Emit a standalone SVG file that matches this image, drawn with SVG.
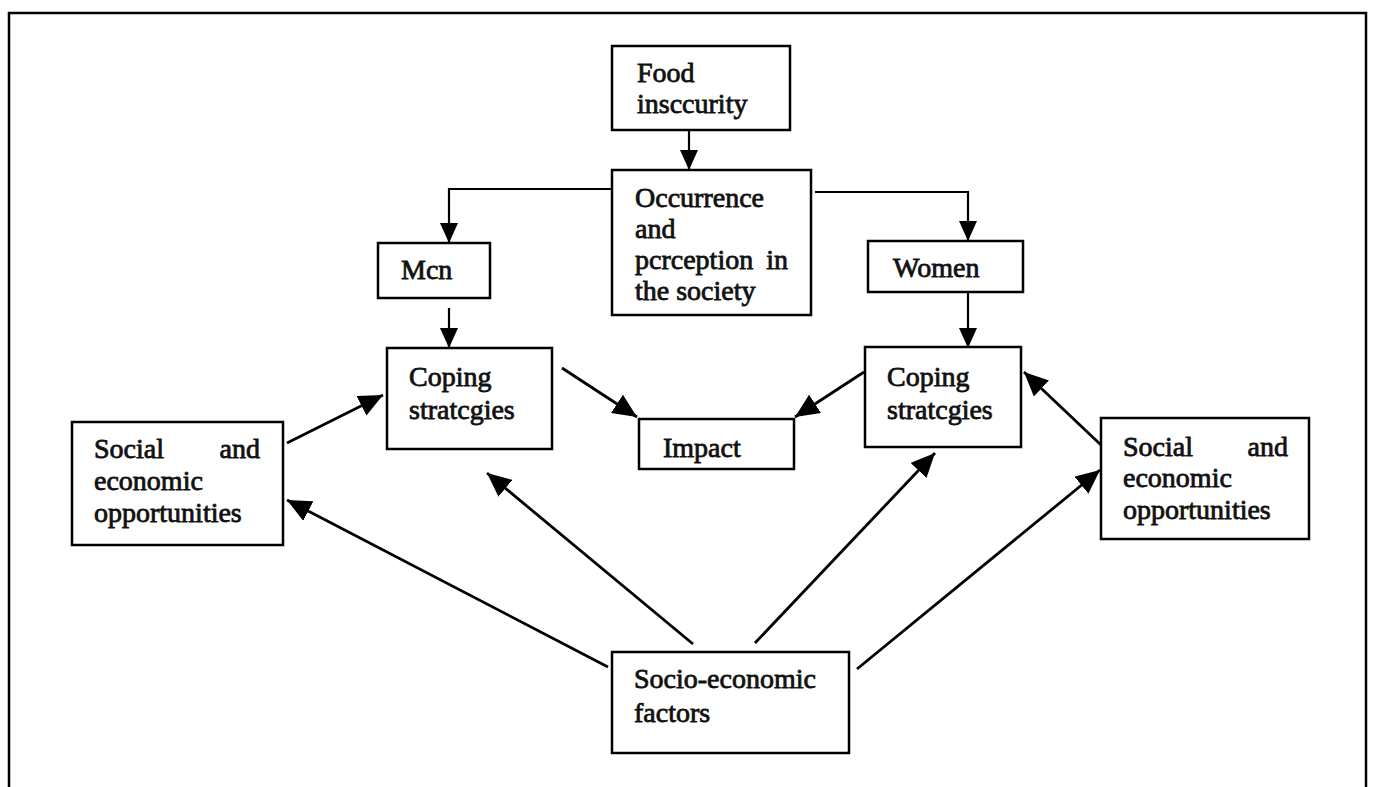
<svg xmlns="http://www.w3.org/2000/svg" width="1377" height="787" viewBox="0 0 1377 787">
<style>
.box{fill:#fff;stroke:#000;stroke-width:2.5}
.t{font-family:"Liberation Serif","Times New Roman",serif;font-size:28px;fill:#111;stroke:#111;stroke-width:0.8}
.c{fill:none;stroke:#000;stroke-width:2.8}
.v{fill:none;stroke:#000;stroke-width:2.2}
</style>
<defs>
<marker id="big" viewBox="0 0 24 22" refX="24" refY="11" markerWidth="24" markerHeight="22" markerUnits="userSpaceOnUse" orient="auto">
<path d="M0,0 L24,11 L0,22 z" fill="#000"/>
</marker>
<marker id="sm" viewBox="0 0 20 18" refX="20" refY="9" markerWidth="20" markerHeight="18" markerUnits="userSpaceOnUse" orient="auto">
<path d="M0,0 L20,9 L0,18 z" fill="#000"/>
</marker>
</defs>
<rect x="9" y="13" width="1357" height="800" fill="#fff" stroke="#000" stroke-width="2.5"/>
<g id="connectors">
<path class="v" d="M689,130 V170" marker-end="url(#sm)"/>
<path class="v" d="M612,189 H449 V243" marker-end="url(#sm)"/>
<path class="v" d="M815,192 H968 V241" marker-end="url(#sm)"/>
<path class="v" d="M449,308 V348" marker-end="url(#sm)"/>
<path class="v" d="M968,293 V348" marker-end="url(#sm)"/>
<path class="c" d="M562,368 L637,417" marker-end="url(#big)"/>
<path class="c" d="M864,372 L795,417" marker-end="url(#big)"/>
<path class="c" d="M287,443 L383,395" marker-end="url(#big)"/>
<path class="c" d="M1101,445 L1024,372" marker-end="url(#big)"/>
<path class="c" d="M608,667 L287,500" marker-end="url(#big)"/>
<path class="c" d="M693,644 L487,473" marker-end="url(#big)"/>
<path class="c" d="M755,643 L935,453" marker-end="url(#big)"/>
<path class="c" d="M857,669 L1100,470" marker-end="url(#big)"/>
</g>
<g id="food">
<rect class="box" x="612" y="46" width="178" height="84"/>
<text class="t" x="637" y="82">Food</text>
<text class="t" x="637" y="113">insccurity</text>
</g>
<g id="occurrence">
<rect class="box" x="612" y="170" width="199" height="145"/>
<text class="t" x="635" y="207">Occurrence</text>
<text class="t" x="635" y="238">and</text>
<text class="t" x="635" y="269">pcrception</text>
<text class="t" x="788" y="269" text-anchor="end">in</text>
<text class="t" x="635" y="300">the society</text>
</g>
<g id="men">
<rect class="box" x="378" y="243" width="112" height="55"/>
<text class="t" x="401" y="279">Mcn</text>
</g>
<g id="women">
<rect class="box" x="868" y="241" width="155" height="51"/>
<text class="t" x="893" y="277">Women</text>
</g>
<g id="coping-left">
<rect class="box" x="387" y="348" width="165" height="101"/>
<text class="t" x="409" y="386">Coping</text>
<text class="t" x="409" y="419">stratcgies</text>
</g>
<g id="coping-right">
<rect class="box" x="865" y="347" width="156" height="100"/>
<text class="t" x="887" y="386">Coping</text>
<text class="t" x="887" y="419">stratcgies</text>
</g>
<g id="impact">
<rect class="box" x="639" y="419" width="155" height="50"/>
<text class="t" x="663" y="457">Impact</text>
</g>
<g id="social-left">
<rect class="box" x="72" y="422" width="211" height="123"/>
<text class="t" x="94" y="458">Social</text>
<text class="t" x="260" y="458" text-anchor="end">and</text>
<text class="t" x="94" y="490">economic</text>
<text class="t" x="94" y="522">opportunities</text>
</g>
<g id="social-right">
<rect class="box" x="1101" y="418" width="208" height="121"/>
<text class="t" x="1123" y="456">Social</text>
<text class="t" x="1288" y="456" text-anchor="end">and</text>
<text class="t" x="1123" y="487">economic</text>
<text class="t" x="1123" y="519">opportunities</text>
</g>
<g id="socio">
<rect class="box" x="612" y="652" width="237" height="101"/>
<text class="t" x="634" y="688">Socio-economic</text>
<text class="t" x="634" y="722">factors</text>
</g>
</svg>
